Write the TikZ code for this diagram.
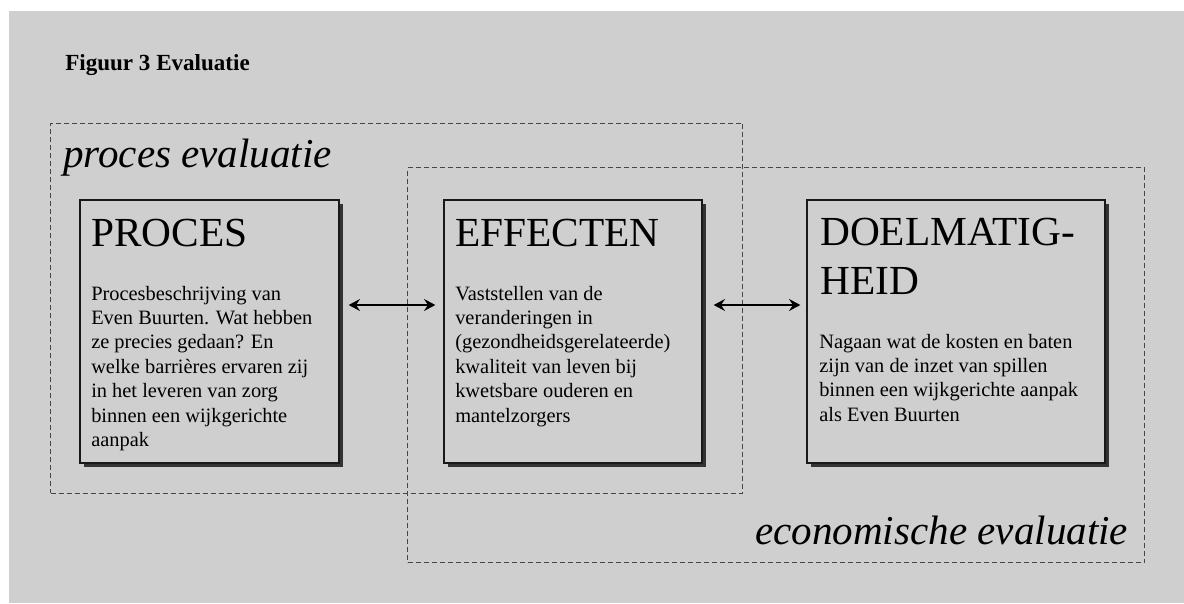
\documentclass[tikz,border=0pt]{standalone}
\usepackage{fontspec}
\setmainfont{Liberation Serif}
\usetikzlibrary{arrows.meta,shadows}
\definecolor{bggray}{RGB}{207,207,207}
\definecolor{dashgray}{RGB}{70,70,70}
\tikzset{
  mainbox/.style={draw=black!90, line width=1pt, fill=bggray, rectangle, inner sep=0pt,
    minimum height=197.25pt,
    drop shadow={shadow xshift=3pt, shadow yshift=-3pt, fill=black!80, opacity=1}},
  boxtitle/.style={anchor=base west, inner sep=0pt, font=\fontsize{31}{36.75}\selectfont, align=left},
  boxbody/.style={anchor=base west, inner sep=0pt},
  evalframe/.style={draw=dashgray, line width=0.8pt, dash pattern=on 3.75pt off 2.25pt},
  evallabel/.style={anchor=base west, inner sep=0pt, font=\fontsize{30.8}{36}\selectfont\itshape},
  biarrow/.style={{Stealth[length=8.5pt,width=9pt,inset=3pt]}-{Stealth[length=8.5pt,width=9pt,inset=3pt]}, line width=1.1pt, black}
}
\newcommand{\bodytext}[2]{\parbox[t]{#1}{\fontsize{15.3}{18.3}\selectfont\raggedright #2}}
\begin{document}
\begin{tikzpicture}[x=0.75pt,y=-0.75pt]
\useasboundingbox (0,0) rectangle (1184,603);
\fill[white] (0,0) rectangle (1184,603);
\fill[bggray] (9,11) rectangle (1184,603);

% figure title
\node[anchor=base west, inner sep=0pt, font=\fontsize{17.3}{20}\selectfont\bfseries] (figtitle) at (65,70) {Figuur 3 Evaluatie};

% dashed evaluation frames
\node[evalframe, rectangle, inner sep=0pt, minimum width=519pt, minimum height=277.5pt, anchor=north west] (procframe) at (50,122.5) {};
\node[evalframe, rectangle, inner sep=0pt, minimum width=552.75pt, minimum height=296.25pt, anchor=north west] (econframe) at (407,167) {};

\node[evallabel] (proclabel) at (63,167) {proces evaluatie};
\node[evallabel] (econlabel) at (755,544) {economische evaluatie};

% boxes
\node[mainbox, minimum width=194.25pt] (proc) at (209.5,331.5) {};
\node[mainbox, minimum width=193.5pt] (eff) at (573,331.5) {};
\node[mainbox, minimum width=223.5pt] (doel) at (956,331.5) {};

% titles
\node[boxtitle] (proctitle) at (91,246) {PROCES};
\node[boxtitle] (efftitle) at (455,246) {EFFECTEN};
\node[boxtitle] (doeltitle) at (820,294) {DOELMATIG-\\HEID};

% body texts
\node[boxbody] (proctext) at (91,300) {\bodytext{180pt}{Procesbeschrijving van\\Even Buurten. Wat hebben\\ze precies gedaan? En\\welke barrières ervaren zij\\in het leveren van zorg\\binnen een wijkgerichte\\aanpak}};
\node[boxbody] (efftext) at (455,300) {\bodytext{180pt}{Vaststellen van de\\veranderingen in\\(gezondheidsgerelateerde)\\kwaliteit van leven bij\\kwetsbare ouderen en\\mantelzorgers}};
\node[boxbody] (doeltext) at (819,348) {\bodytext{210pt}{Nagaan wat de kosten en baten\\zijn van de inzet van spillen\\binnen een wijkgerichte aanpak\\als Even Buurten}};

% arrows
\draw[biarrow, shorten <=6.75pt, shorten >=6pt] ([shift={(0,-26.5)}]proc.east) -- ([shift={(0,-26.5)}]eff.west);
\draw[biarrow, shorten <=8.25pt, shorten >=4.5pt] ([shift={(0,-26.5)}]eff.east) -- ([shift={(0,-26.5)}]doel.west);
\end{tikzpicture}
\end{document}
